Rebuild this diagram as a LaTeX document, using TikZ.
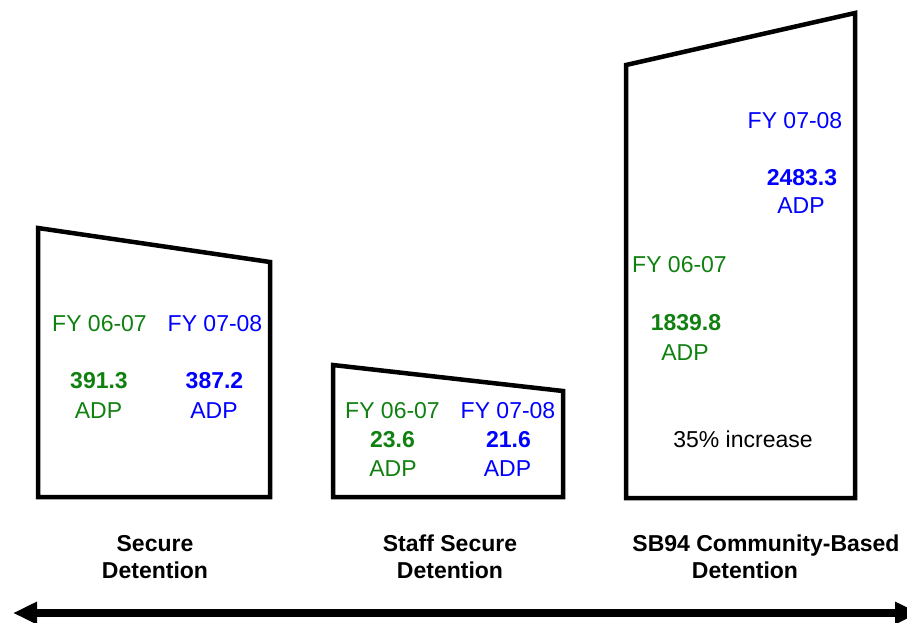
\documentclass[tikz,border=0pt]{standalone}
\usepackage{fontspec}
\setmainfont{Liberation Sans}
\usetikzlibrary{arrows.meta}
\definecolor{fygreen}{RGB}{16,128,16}
\definecolor{fyblue}{RGB}{0,0,255}
\tikzset{
  boxline/.style={line width=4.5pt, line join=miter},
  txt/.style={anchor=base, inner sep=0pt, font=\fontsize{23}{26}\selectfont},
  num/.style={txt, font=\fontsize{23}{26}\selectfont\bfseries},
  lbl/.style={anchor=base, inner sep=0pt, font=\fontsize{23}{26}\selectfont\bfseries},
  gr/.style={text=fygreen},
  bl/.style={text=fyblue},
}
\begin{document}
\begin{tikzpicture}[x=1pt,y=-1pt]
\useasboundingbox (0,0) rectangle (907,622);
% boxes
\draw[boxline] (38,228) -- (270,262) -- (270,497) -- (38,497) -- cycle;
\draw[boxline] (333,365) -- (563,391) -- (563,497) -- (333,497) -- cycle;
\draw[boxline] (626,65) -- (855,13) -- (855,498) -- (626,498) -- cycle;
% box 1
\node[txt,gr] (a1) at (99.5,331) {FY 06-07};
\node[num,gr] (a2) at (99,388) {391.3};
\node[txt,gr] (a3) at (98.5,418) {ADP};
\node[txt,bl] (b1) at (215,331) {FY 07-08};
\node[num,bl] (b2) at (214.5,388) {387.2};
\node[txt,bl] (b3) at (214,418) {ADP};
% box 2
\node[txt,gr] (c1) at (392.5,418) {FY 06-07};
\node[num,gr] (c2) at (392.5,447) {23.6};
\node[txt,gr] (c3) at (393,476) {ADP};
\node[txt,bl] (d1) at (508,418) {FY 07-08};
\node[num,bl] (d2) at (508.5,447) {21.6};
\node[txt,bl] (d3) at (507.5,476) {ADP};
% box 3
\node[txt,bl] (e1) at (795,128) {FY 07-08};
\node[num,bl] (e2) at (802,185) {2483.3};
\node[txt,bl] (e3) at (801,213) {ADP};
\node[txt,gr] (f1) at (679.5,272) {FY 06-07};
\node[num,gr] (f2) at (686,330) {1839.8};
\node[txt,gr] (f3) at (685,360) {ADP};
\node[txt] (g1) at (743,447) {35\% increase};
% labels
\node[lbl] (l1) at (155,551) {Secure};
\node[lbl] (l2) at (155,578) {Detention};
\node[lbl] (m1) at (450,551) {Staff Secure};
\node[lbl] (m2) at (450,578) {Detention};
\node[lbl] (n1) at (766,551) {SB94 Community-Based};
\node[lbl] (n2) at (745,578) {Detention};
% arrow
\coordinate (L) at (13,613);
\coordinate (R) at (919,613);
\draw[line width=8pt, {Triangle[length=24pt,width=21pt]}-{Triangle[length=24pt,width=21pt]}] (L) -- (R);
\end{tikzpicture}
\end{document}
